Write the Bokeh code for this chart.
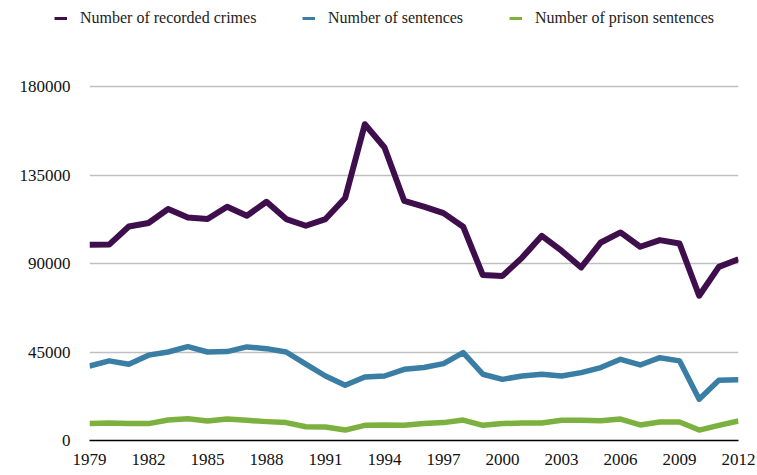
from bokeh.plotting import figure
from bokeh.layouts import column
from bokeh.models import Legend, LegendItem, FixedTicker, Range1d, NumeralTickFormatter
from bokeh.embed import file_html
from bokeh.resources import INLINE

years = list(range(1979, 2013))
recorded_crimes = [99500, 99600, 108800, 110600, 117700, 113400, 112600, 118900, 114300, 121400,
                   112600, 109200, 112600, 123300, 160800, 149000, 121900, 118900, 115600, 108700,
                   84100, 83700, 93000, 104100, 96500, 88000, 100700, 105800, 98500, 101900,
                   100200, 73600, 88300, 92200]
sentences = [37900, 40500, 38800, 43400, 45000, 47700, 45000, 45200, 47600, 46700,
             45000, 38800, 32800, 28100, 32300, 32800, 36200, 37100, 39100, 44700,
             33700, 31100, 32800, 33700, 32800, 34500, 37100, 41300, 38400, 42100,
             40500, 21000, 30600, 30900]
prison_sentences = [8600, 8900, 8700, 8600, 10400, 11100, 9900, 10900, 10300, 9600,
                    9100, 7000, 6900, 5300, 7700, 7900, 7700, 8600, 9100, 10400,
                    7700, 8600, 8900, 8900, 10300, 10300, 10100, 10900, 7900, 9400,
                    9400, 5300, 7700, 9900]
series_names = ["Number of recorded crimes", "Number of sentences", "Number of prison sentences"]
y_ticks = [0, 45000, 90000, 135000, 180000]
x_ticks = list(range(1979, 2013, 3))

colors = ["#3e0e4d", "#3a7ea6", "#7cb13f"]
widths = [6, 5.5, 5.5]
font = "'Liberation Serif', serif"
all_series = [recorded_crimes, sentences, prison_sentences]

# ---- legend strip (separate small figure above the chart) ----
lf = figure(width=757, height=28, output_backend="svg", toolbar_location=None,
            x_range=Range1d(1979, 2012), y_range=Range1d(-2, -1),
            x_axis_location=None, y_axis_location=None, frame_align=False,
            min_border_left=0, min_border_right=0, min_border_top=0, min_border_bottom=0)
lf.outline_line_color = None
lf.grid.visible = False
keys = [lf.line(years, data, line_color=c, line_width=3) for data, c in zip(all_series, colors)]
legend_x = [54, 302, 509]
for name, r, lx in zip(series_names, keys, legend_x):
    lg = Legend(items=[LegendItem(label=name, renderers=[r])], location=(lx, 1),
                orientation="horizontal", padding=0, margin=0, border_line_color=None,
                background_fill_alpha=0, glyph_width=13, glyph_height=14, label_height=14,
                label_standoff=13, label_text_font=font, label_text_font_size="16px",
                label_text_color="#222222")
    lf.add_layout(lg, "center")

# ---- main chart ----
p = figure(frame_width=649, frame_height=412, output_backend="svg", toolbar_location=None,
           x_range=Range1d(1979, 2012), y_range=Range1d(0, 209492), frame_align=False,
           min_border_left=89, min_border_right=19, min_border_top=0, min_border_bottom=35)
p.outline_line_color = None
p.background_fill_color = "white"

for data, c, w in zip(all_series, colors, widths):
    p.line(years, data, line_color=c, line_width=w, line_join="round")

p.xgrid.visible = False
p.ygrid.ticker = FixedTicker(ticks=y_ticks)
p.ygrid.grid_line_color = "#c0c0c0"
p.ygrid.grid_line_width = 1.5

p.yaxis.ticker = FixedTicker(ticks=y_ticks)
p.yaxis.formatter = NumeralTickFormatter(format="0")
p.yaxis.axis_line_color = None
p.yaxis.major_tick_line_color = None
p.yaxis.minor_tick_line_color = None
p.yaxis.major_tick_out = 0
p.yaxis.major_tick_in = 0
p.yaxis.minor_tick_out = 0
p.yaxis.major_label_standoff = 19
p.yaxis.major_label_text_font = font
p.yaxis.major_label_text_font_size = "17px"
p.yaxis.major_label_text_color = "#111111"

p.xaxis.ticker = FixedTicker(ticks=x_ticks)
p.xaxis.axis_line_color = "#000000"
p.xaxis.axis_line_width = 1.5
p.xaxis.major_tick_line_color = None
p.xaxis.minor_tick_line_color = None
p.xaxis.major_tick_out = 0
p.xaxis.major_tick_in = 0
p.xaxis.minor_tick_out = 0
p.xaxis.major_label_standoff = 13
p.xaxis.major_label_text_font = font
p.xaxis.major_label_text_font_size = "17px"
p.xaxis.major_label_text_color = "#111111"

layout = column(lf, p, spacing=0)
open("out.html", "w").write(file_html(layout, INLINE))
